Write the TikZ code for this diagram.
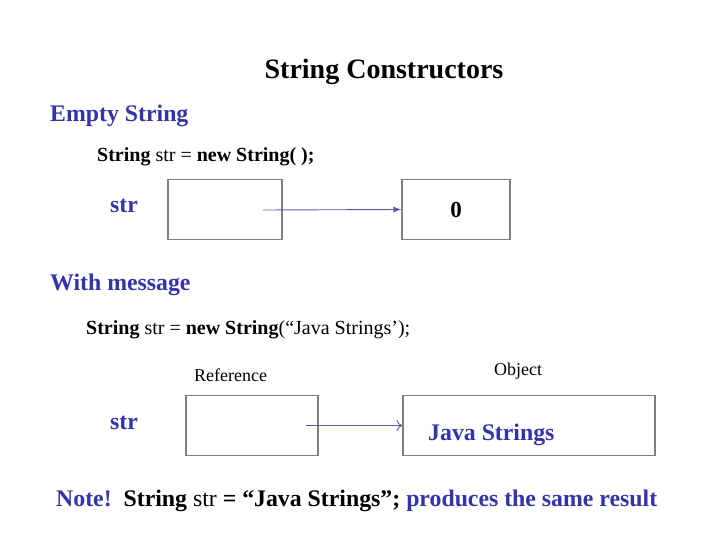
\documentclass[tikz,border=0pt]{standalone}
\usepackage{fontspec}
\setmainfont{Liberation Serif}
\usetikzlibrary{arrows.meta}
\definecolor{hdblue}{RGB}{51,51,170}
\definecolor{ptrblue}{RGB}{90,90,175}

\begin{document}
\begin{tikzpicture}[x=1pt,y=-1pt,
  cell/.style={draw=gray,line width=1.2pt,rectangle,minimum width=#1,minimum height=60pt,inner sep=0pt},
  head/.style={anchor=base west,inner sep=0pt,text=hdblue,font=\fontsize{23.8}{28}\selectfont\bfseries},
  code/.style={anchor=base west,inner sep=0pt,font=\fontsize{20}{24}\selectfont},
  tag/.style={anchor=base west,inner sep=0pt,font=\fontsize{18}{21}\selectfont},
  ptr/.style={draw=ptrblue,line width=0.9pt}]
\useasboundingbox (0,0) rectangle (720,540);

\node[anchor=base,inner sep=0pt,font=\fontsize{28}{32}\selectfont\bfseries] (title) at (384,79) {String Constructors};

% empty string
\node[head] (empty) at (50,122) {Empty String};
\node[code] (code1) at (97,162) {\textbf{String} str = \textbf{new String( );}};
\node[head] (str1) at (110,213) {str};
\node[cell=114pt] (ref1) at (225,209.5) {};
\node[cell=108pt,font=\fontsize{23}{27}\selectfont\bfseries] (val1) at (456,209.5) {0};
\coordinate (p1) at (263,210);
\draw[ptr,-{Latex[length=8pt,width=6pt]}] (p1) -- (val1.west);

% with message
\node[head] (msg) at (50,290) {With message};
\node[code] (code2) at (86,334) {\textbf{String} str = \textbf{new String}(“Java Strings’);};
\node[tag] (reflbl) at (194,381) {Reference};
\node[tag] (objlbl) at (494,375) {Object};
\node[head] (str2) at (110,429) {str};
\node[cell=132pt] (ref2) at (252,425.5) {};
\node[cell=252pt] (val2) at (529,425.5) {};
\node[head] (jstr) at (428,440) {Java Strings};
\coordinate (p2) at (306,425.5);
\draw[ptr,-{To[length=6pt,width=11pt]}] (p2) -- (val2.west);

% note
\node[head,text=black] (note) at (56,506)
  {\textcolor{hdblue}{Note!}\ \ String \mdseries str \bfseries = “Java Strings”; \textcolor{hdblue}{produces the same result}};
\end{tikzpicture}
\end{document}
